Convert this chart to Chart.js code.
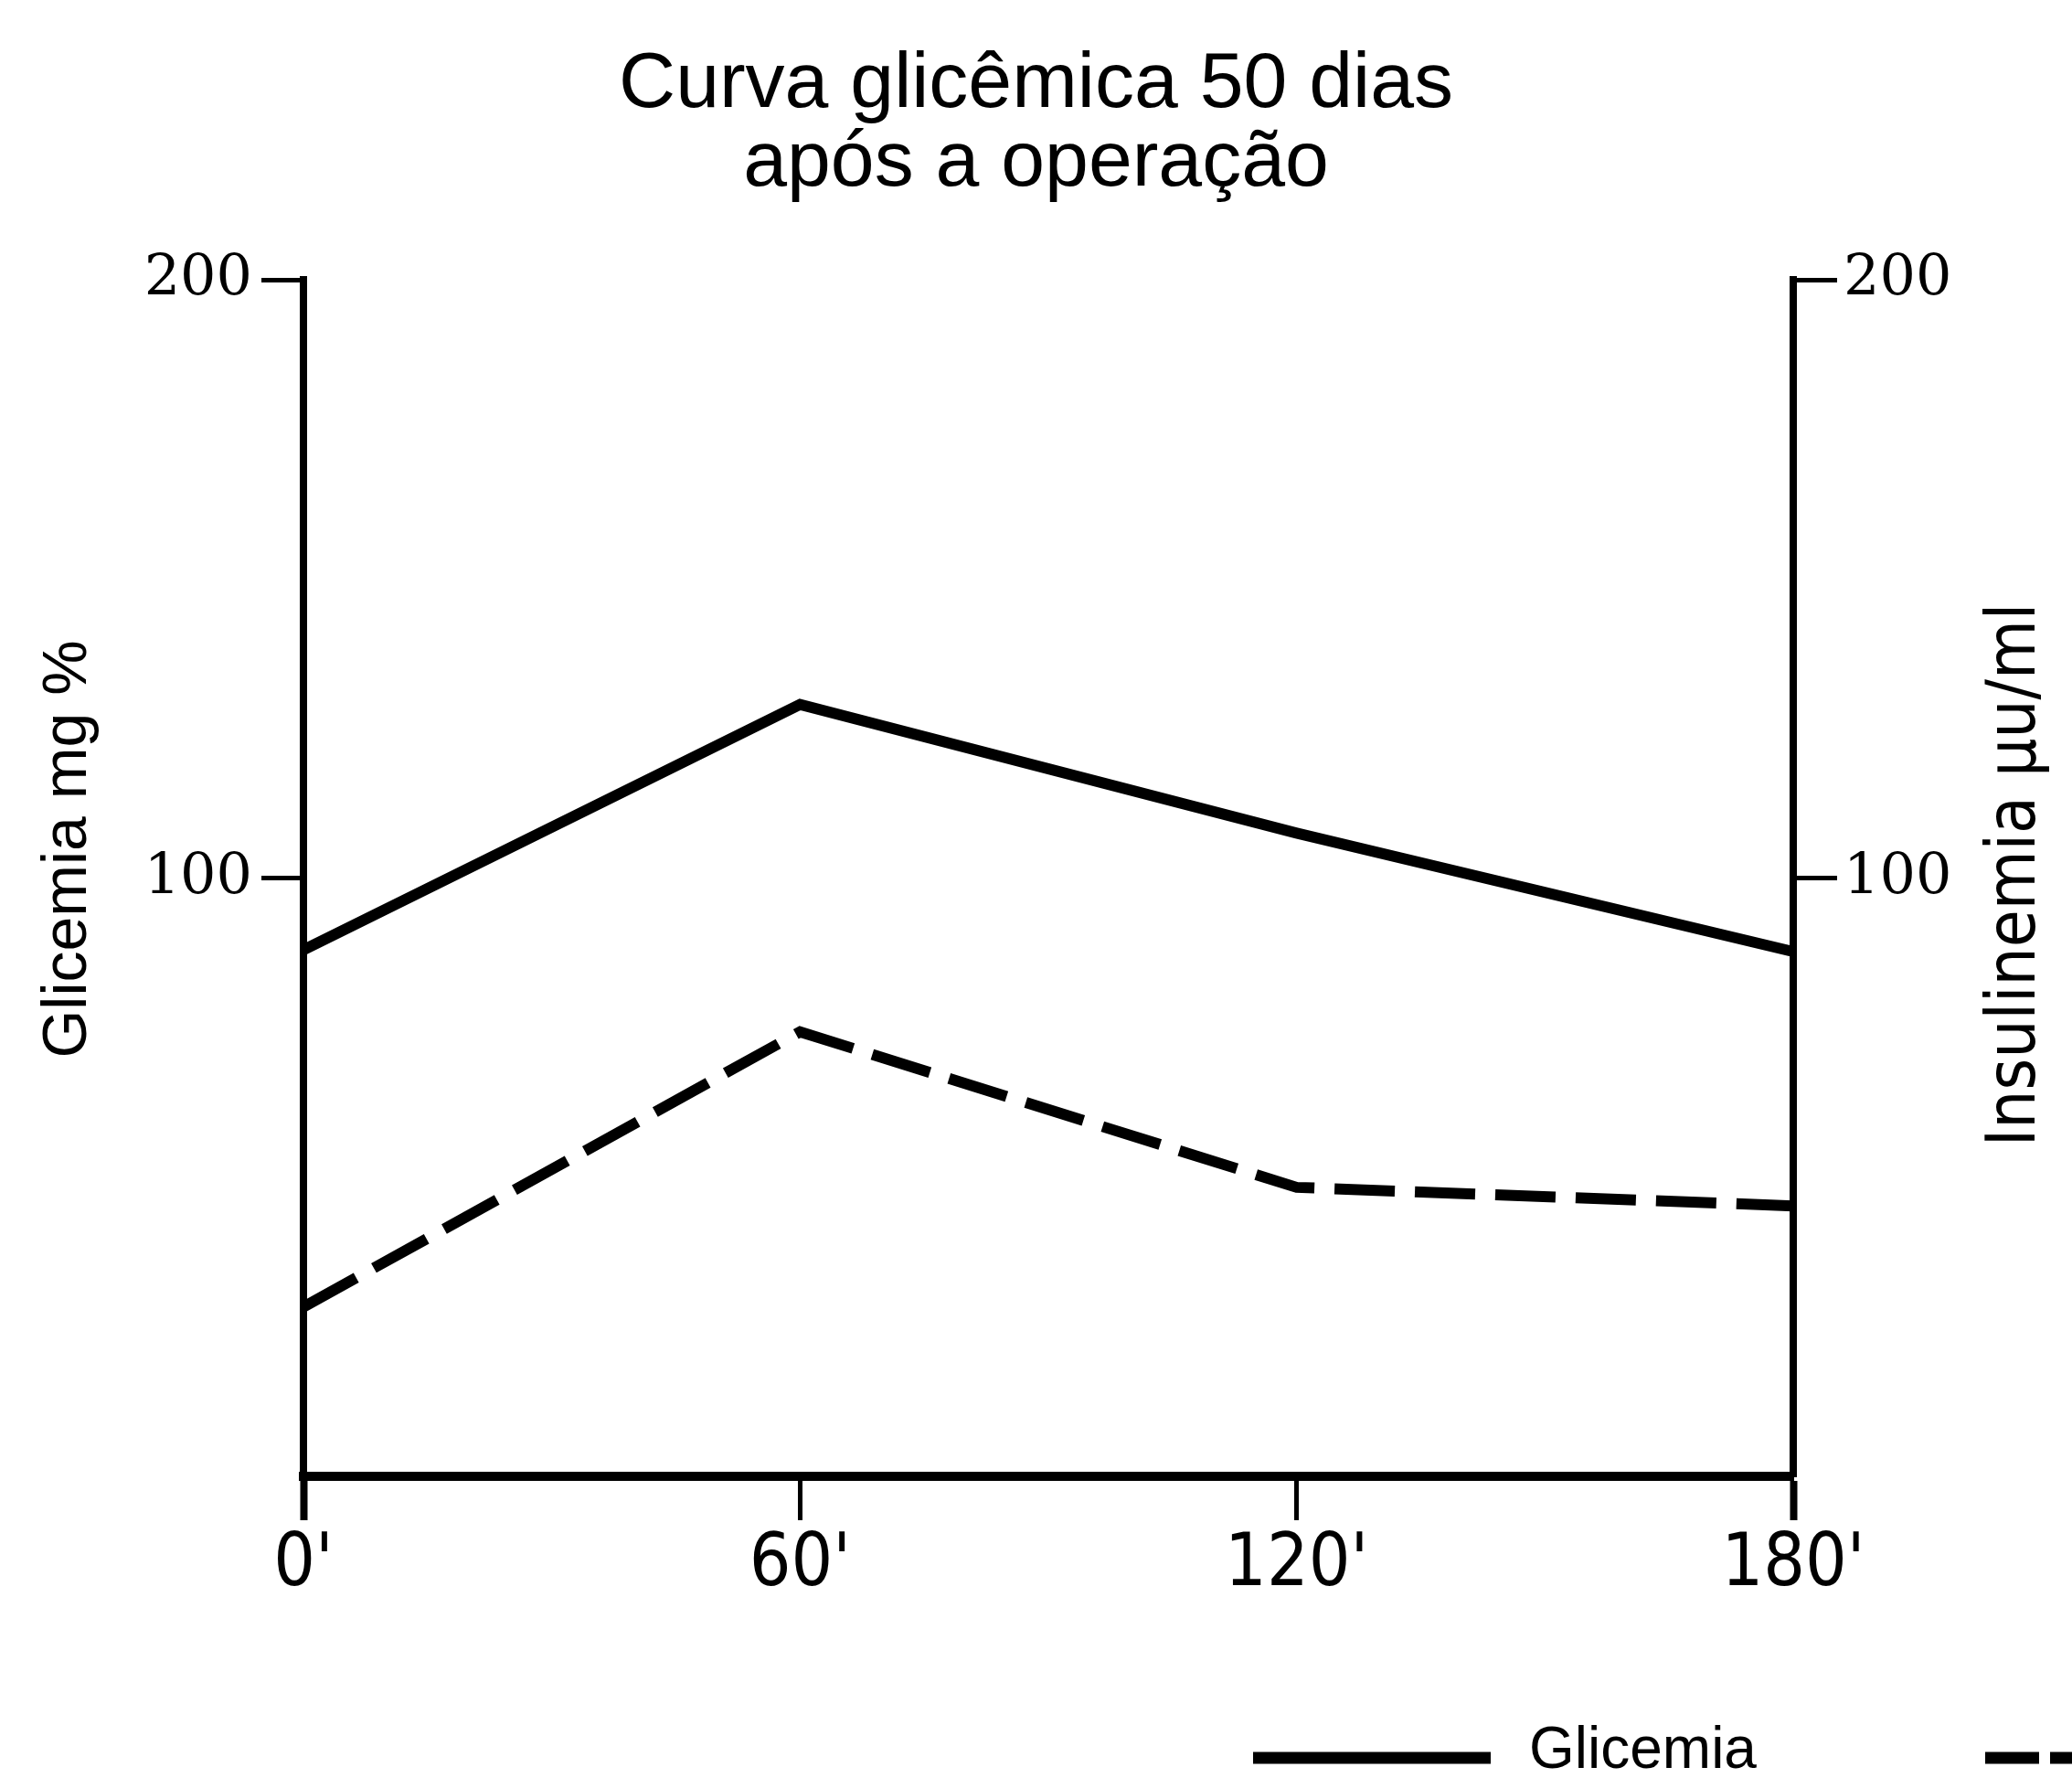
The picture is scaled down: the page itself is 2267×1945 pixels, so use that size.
<!DOCTYPE html>
<html>
<head>
<meta charset="utf-8">
<script src="https://cdn.jsdelivr.net/npm/chart.js@4.4.1/dist/chart.umd.min.js"></script>
<style>
  html, body { margin: 0; padding: 0; background: #fff; overflow: hidden; }
  canvas { display: block; }
</style>
</head>
<body>
<canvas id="curva-glicemica" width="2267" height="1945"></canvas>
<script>
// Dados
const tempos = ["0'", "60'", "120'", "180'"];
const glicemia = [88, 129, 107.5, 87.7];      // mg %
const insulinemia = [28.3, 74.3, 48.3, 45.2]; // µu/ml
const titulo = ["Curva glicêmica 50 dias", "após a operação"];
const tituloEsq = "Glicemia mg %";
const tituloDir = "Insulinemia µu/ml";
const yMax = 200;
const yStep = 100;

const SANS = "'Liberation Sans', Arial, sans-serif";
const NARROW = "'Liberation Sans Narrow', 'DejaVu Sans Condensed', sans-serif";
const SERIF = "'DejaVu Serif', serif";

function eixoY(position, width, tickLength, padding) {
  return {
    position: position,
    min: 0,
    max: yMax,
    ticks: {
      stepSize: yStep,
      padding: padding,
      color: "#000",
      font: { family: SERIF, size: 62 },
      callback: (v) => (v === 0 ? "" : v),
    },
    grid: {
      drawOnChartArea: false,
      drawTicks: true,
      tickLength: tickLength,
      tickWidth: 5,
      tickColor: (ctx) => (ctx.tick && ctx.tick.value === 0 ? "rgba(0,0,0,0)" : "#000"),
    },
    border: { display: true, color: "#000", width: 8 },
    afterFit: (s) => { s.width = width; },
  };
}

// titulos dos eixos (ambos lidos de baixo para cima) e legenda no rodape
const textosExtras = {
  id: "textosExtras",
  afterDraw(chart) {
    const ctx = chart.ctx;
    ctx.save();
    ctx.fillStyle = "#000";
    ctx.textAlign = "center";
    ctx.textBaseline = "middle";

    ctx.save();
    ctx.translate(75, 929);
    ctx.rotate(-Math.PI / 2);
    ctx.font = "68px " + SANS;
    ctx.fillText(tituloEsq, 0, 0);
    ctx.restore();

    ctx.save();
    ctx.translate(2207, 957);
    ctx.rotate(-Math.PI / 2);
    ctx.font = "74px " + NARROW;
    ctx.fillText(tituloDir, 0, 0);
    ctx.restore();

    // legenda
    const itens = [
      { x0: 1371, x1: 1631, tx: 1673 },
      { x0: 2172, x1: 2432, tx: 2474 },
    ];
    const y = 1923;
    chart.data.datasets.forEach((ds, i) => {
      const it = itens[i];
      ctx.save();
      ctx.strokeStyle = "#000";
      ctx.lineWidth = 13;
      ctx.setLineDash(ds.borderDash ? [59, 12] : []);
      ctx.beginPath();
      ctx.moveTo(it.x0, y);
      ctx.lineTo(it.x1, y);
      ctx.stroke();
      ctx.restore();
      ctx.font = "64px " + SANS;
      ctx.textAlign = "left";
      ctx.fillText(ds.label, it.tx, y - 7);
    });
    ctx.restore();
  },
};

const ctx = document.getElementById("curva-glicemica").getContext("2d");
new Chart(ctx, {
  type: "line",
  data: {
    labels: tempos,
    datasets: [
      {
        label: "Glicemia",
        data: glicemia,
        yAxisID: "y",
        borderColor: "#000",
        borderWidth: 12,
        pointRadius: 0,
        tension: 0,
        fill: false,
      },
      {
        label: "Insulinemia",
        data: insulinemia,
        yAxisID: "y2",
        borderColor: "#000",
        borderWidth: 12,
        borderDash: [66, 22],
        pointRadius: 0,
        tension: 0,
        fill: false,
      },
    ],
  },
  options: {
    responsive: false,
    devicePixelRatio: 1,
    animation: false,
    layout: { padding: 0 },
    plugins: {
      legend: { display: false },
      tooltip: { enabled: false },
      title: {
        display: true,
        text: titulo,
        color: "#000",
        font: { family: SANS, size: 86, weight: "normal", lineHeight: 1.0 },
        padding: { top: 50, bottom: 84 },
      },
    },
    scales: {
      x: {
        offset: false,
        ticks: {
          color: "#000",
          padding: 2,
          maxRotation: 0,
          font: { family: NARROW, size: 80 },
        },
        grid: {
          drawOnChartArea: false,
          drawTicks: true,
          tickLength: 48,
          tickColor: "#000",
          tickWidth: (c) => (c.index === 0 || c.index === tempos.length - 1 ? 8 : 5),
        },
        border: { display: true, color: "#000", width: 10 },
        afterFit: (s) => { s.height = 330; },
      },
      y: eixoY("left", 332, 46, 10),
      y2: eixoY("right", 305, 48, 7),
    },
  },
  plugins: [textosExtras],
});
</script>
</body>
</html>
